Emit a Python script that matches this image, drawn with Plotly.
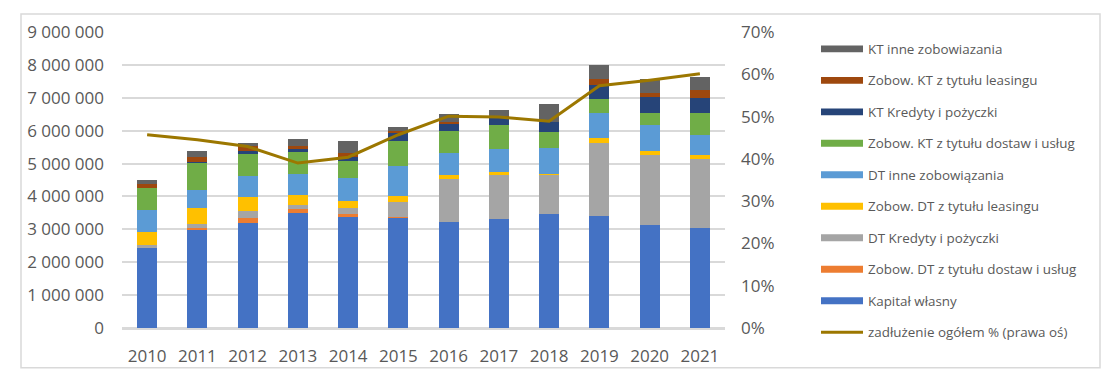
import plotly.graph_objects as go

# ---------------- data ----------------
years = ["2010", "2011", "2012", "2013", "2014", "2015", "2016", "2017", "2018", "2019", "2020", "2021"]

kapital_wlasny = [2445000, 2990000, 3200000, 3510000, 3390000, 3350000, 3230000, 3320000, 3480000, 3420000, 3140000, 3050000]
dt_dostaw = [10000, 50000, 150000, 120000, 90000, 40000, 0, 0, 0, 0, 0, 0]
dt_kredyty = [60000, 130000, 220000, 120000, 180000, 450000, 1310000, 1330000, 1180000, 2210000, 2120000, 2090000]
dt_leasing = [400000, 490000, 420000, 300000, 210000, 180000, 120000, 90000, 10000, 150000, 120000, 120000]
dt_inne = [670000, 530000, 620000, 630000, 690000, 900000, 660000, 700000, 790000, 760000, 790000, 610000]
kt_dostaw = [680000, 830000, 680000, 670000, 520000, 770000, 670000, 720000, 510000, 420000, 370000, 670000]
kt_kredyty = [0, 30000, 90000, 90000, 120000, 240000, 220000, 240000, 280000, 430000, 490000, 460000]
kt_leasing = [120000, 150000, 150000, 90000, 120000, 60000, 60000, 60000, 0, 180000, 120000, 240000]
kt_inne = [130000, 190000, 100000, 210000, 370000, 130000, 240000, 180000, 570000, 420000, 420000, 390000]
zadluzenie = [0.457, 0.445, 0.429, 0.390, 0.404, 0.457, 0.501, 0.499, 0.489, 0.573, 0.586, 0.601]

left_ticks = [0, 1000000, 2000000, 3000000, 4000000, 5000000, 6000000, 7000000, 8000000, 9000000]
right_ticks = [0, 0.1, 0.2, 0.3, 0.4, 0.5, 0.6, 0.7]

series = [
    ("Kapitał własny", kapital_wlasny, "#4472C4"),
    ("Zobow. DT z tytułu dostaw i usług", dt_dostaw, "#ED7D31"),
    ("DT Kredyty i pożyczki", dt_kredyty, "#A5A5A5"),
    ("Zobow. DT z tytułu leasingu", dt_leasing, "#FFC000"),
    ("DT inne zobowiązania", dt_inne, "#5B9BD5"),
    ("Zobow. KT z tytułu dostaw i usług", kt_dostaw, "#70AD47"),
    ("KT Kredyty i pożyczki", kt_kredyty, "#264478"),
    ("Zobow. KT z tytułu leasingu", kt_leasing, "#9E480E"),
    ("KT inne zobowiazania", kt_inne, "#636363"),
]
line_name = "zadłużenie ogółem % (prawa oś)"
line_color = "#9C7700"

# ---------------- layout geometry ----------------
W, H = 1113, 379
PL, PR, PT, PB = 122, 725, 32, 330
FONT = "Open Sans"
TXT = "#595959"
GRID = "#D9D9D9"


def px2x(px):
    return (px - PL) / (PR - PL)


def px2y(py):
    return (PB - py) / (PB - PT)


fig = go.Figure()
for name, vals, col in series:
    fig.add_trace(go.Bar(x=years, y=vals, name=name, marker=dict(color=col, line=dict(width=0)),
                         showlegend=False))
fig.add_trace(go.Scatter(x=years, y=zadluzenie, name=line_name, yaxis="y2", mode="lines",
                         line=dict(color=line_color, width=3), showlegend=False))

shapes = []
annotations = []
# outer chart border
shapes.append(dict(type="rect", xref="paper", yref="paper",
                   x0=px2x(21), x1=px2x(1100), y0=px2y(370), y1=px2y(14),
                   line=dict(color=GRID, width=1.5), fillcolor="rgba(0,0,0,0)", layer="below"))

# custom legend (top to bottom)
legend_items = [(n, c, "bar") for n, _, c in reversed(series)] + [(line_name, line_color, "line")]
y0 = 49
step = 31.7
for i, (name, col, kind) in enumerate(legend_items):
    yc = y0 + i * step
    if kind == "bar":
        shapes.append(dict(type="rect", xref="paper", yref="paper",
                           x0=px2x(821), x1=px2x(863), y0=px2y(yc + 3.5), y1=px2y(yc - 3.5),
                           line=dict(width=0), fillcolor=col))
    else:
        shapes.append(dict(type="line", xref="paper", yref="paper",
                           x0=px2x(821), x1=px2x(863), y0=px2y(yc), y1=px2y(yc),
                           line=dict(color=col, width=3)))
    annotations.append(dict(xref="paper", yref="paper", x=px2x(866), y=px2y(yc),
                            text=name, showarrow=False, xanchor="left", yanchor="middle",
                            font=dict(family=FONT, size=13.4, color=TXT)))

fig.update_layout(
    width=W, height=H,
    margin=dict(l=PL, r=W - PR, t=PT, b=H - PB, pad=0),
    barmode="stack",
    bargap=0.6,
    paper_bgcolor="white",
    plot_bgcolor="white",
    separators=", ",
    showlegend=False,
    font=dict(family=FONT, size=17, color=TXT),
    xaxis=dict(type="category", showgrid=False, showline=True, linecolor=GRID, linewidth=1.5,
               ticks="", ticklabelstandoff=12, tickfont=dict(family=FONT, size=17, color=TXT)),
    yaxis=dict(range=[0, 9000000], tickvals=left_ticks, tickformat=",d", showgrid=True,
               gridcolor=GRID, gridwidth=1.5, zeroline=True, zerolinecolor=GRID, zerolinewidth=1.5,
               showline=False, ticks="", ticklabelstandoff=17,
               tickfont=dict(family=FONT, size=17, color=TXT)),
    yaxis2=dict(range=[0, 0.7], tickvals=right_ticks, tickformat=".0%", overlaying="y", side="right",
                showgrid=False, zeroline=False, showline=False, ticks="", ticklabelstandoff=15,
                tickfont=dict(family=FONT, size=17, color=TXT)),
    shapes=shapes,
    annotations=annotations,
)

fig.write_html("out.html", config={"displayModeBar": False},
               post_script="document.body.style.margin='0';document.body.style.overflow='hidden';")
